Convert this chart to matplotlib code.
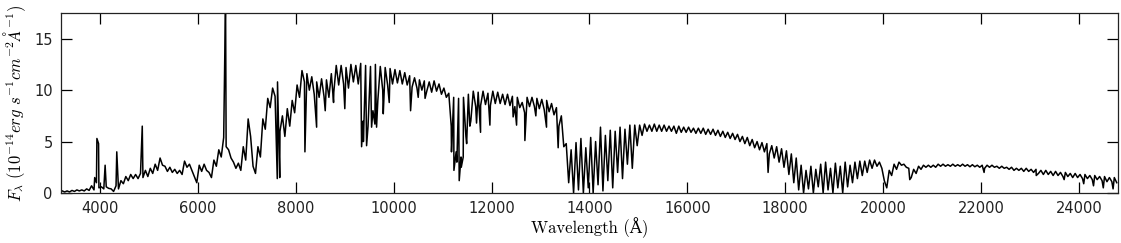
import numpy as np
import matplotlib
matplotlib.use('Agg')
from matplotlib import pyplot as plt

plt.rcParams['mathtext.fontset'] = 'cm'

# bin start wavelengths (Angstrom), 100 A bins
wave_bins = np.arange(3200, 24800, 100)

# upper / lower edge of the dense spectrum band in each bin (1e-14 erg/s/cm2/A)
flux_hi = [
    0.2, 0.2, 0.25, 0.3, 0.3, 0.4, 0.7, 1.0, 0.6, 0.6,        # 3200-4100
    0.4, 0.7, 1.2, 1.6, 1.8, 1.8, 1.9, 2.2, 2.4, 2.8,         # 4200-5100
    3.4, 2.6, 2.5, 2.3, 2.2, 3.1, 2.8, 1.6, 2.7, 2.8,         # 5200-6100
    2.0, 3.2, 4.2, 5.4, 4.2, 3.0, 2.9, 4.5, 7.2, 2.6,         # 6200-7100
    4.5, 7.2, 9.2, 10.2, 10.8, 7.5, 8.2, 9.0, 10.5, 11.9,     # 7200-8100
    11.6, 11.3, 10.8, 11.1, 11.0, 11.6, 12.4, 12.4, 12.2, 12.5,  # 8200-9100
    12.4, 12.6, 12.4, 12.3, 12.5, 12.3, 12.2, 12.1, 12.0, 11.9,  # 9200-10100
    11.7, 11.4, 11.2, 11.0, 10.9, 10.8, 10.9, 10.6, 10.2, 9.7,   # 10200-11100
    9.3, 9.2, 9.3, 9.6, 9.9, 9.8, 9.9, 9.7, 9.9, 9.8,         # 11200-12100
    9.6, 9.6, 9.4, 9.3, 8.8, 9.3, 9.3, 9.2, 9.1, 9.0,         # 12200-13100
    8.7, 8.3, 7.5, 4.8, 4.2, 4.9, 5.3, 4.4, 5.4, 5.0,         # 13200-14100
    6.4, 5.6, 6.1, 6.0, 6.4, 6.2, 6.6, 6.6, 6.6, 6.7,         # 14200-15100
    6.6, 6.7, 6.6, 6.6, 6.5, 6.5, 6.5, 6.4, 6.4, 6.3,         # 15200-16100
    6.3, 6.3, 6.2, 6.2, 6.1, 6.0, 5.9, 5.8, 5.7, 5.5,         # 16200-17100
    5.4, 5.2, 5.0, 4.9, 4.8, 4.6, 4.5, 4.3, 4.1, 3.8,         # 17200-18100
    3.4, 2.7, 2.2, 2.6, 2.3, 2.8, 3.0, 2.4, 2.9, 2.6,         # 18200-19100
    3.0, 2.7, 3.0, 3.1, 3.1, 3.2, 3.2, 3.0, 1.2, 2.2,         # 19200-20100
    2.8, 3.0, 2.8, 2.4, 2.3, 2.6, 2.7, 2.7, 2.7, 2.8,         # 20200-21100
    2.8, 2.75, 2.8, 2.75, 2.8, 2.75, 2.75, 2.7, 2.7, 2.7,     # 21200-22100
    2.7, 2.6, 2.6, 2.5, 2.5, 2.4, 2.4, 2.4, 2.3, 2.3,         # 22200-23100
    2.2, 2.2, 2.1, 2.1, 2.0, 2.0, 1.9, 1.9, 1.8, 1.8,         # 23200-24100
    1.7, 1.7, 1.6, 1.6, 1.5, 1.5,                             # 24200-24700
]
flux_lo = [
    0.1, 0.1, 0.15, 0.2, 0.2, 0.25, 0.3, 0.5, 0.4, 0.45,
    0.15, 0.4, 0.9, 1.2, 1.4, 1.4, 1.5, 1.6, 1.9, 2.2,
    2.7, 2.1, 2.0, 1.9, 1.8, 2.5, 2.2, 1.0, 2.1, 2.2,
    1.5, 2.6, 3.5, 4.5, 3.4, 2.4, 2.2, 3.2, 5.5, 1.9,
    3.5, 6.2, 8.3, 9.4, 6.0, 5.5, 6.5, 7.8, 9.3, 10.8,
    10.0, 9.6, 9.3, 9.4, 9.3, 9.8, 10.5, 10.6, 10.2, 10.8,
    10.6, 7.0, 6.5, 8.0, 9.0, 10.0, 10.5, 10.6, 10.7, 10.6,
    10.5, 10.3, 10.2, 10.0, 9.9, 9.8, 9.9, 9.6, 9.3, 6.5,
    4.0, 3.5, 5.5, 7.0, 8.4, 8.5, 8.6, 8.5, 8.7, 8.7,
    8.6, 8.5, 8.4, 8.3, 7.8, 8.4, 8.4, 8.2, 8.1, 7.9,
    7.6, 6.5, 4.5, 1.0, 0.0, 0.3, 0.0, 0.5, 0.0, 0.8,
    0.2, 1.2, 0.5, 2.0, 1.4, 2.8, 2.4, 4.6, 5.6, 6.0,
    6.0, 6.0, 6.0, 6.0, 6.0, 5.8, 5.9, 5.9, 5.9, 5.8,
    5.8, 5.7, 5.7, 5.6, 5.5, 5.4, 5.3, 5.2, 5.0, 4.8,
    4.6, 4.4, 4.2, 4.0, 3.8, 3.4, 3.0, 2.5, 1.8, 1.0,
    0.3, 0.0, 0.4, 0.0, 0.6, 0.0, 0.3, 0.0, 0.5, 0.0,
    0.6, 1.0, 1.4, 1.7, 2.0, 2.4, 2.6, 2.4, 0.5, 1.7,
    2.3, 2.7, 2.5, 1.5, 1.9, 2.3, 2.5, 2.5, 2.5, 2.6,
    2.6, 2.6, 2.6, 2.6, 2.6, 2.55, 2.55, 2.5, 2.4, 2.5,
    2.5, 2.4, 2.4, 2.3, 2.2, 2.2, 2.1, 2.1, 2.0, 1.9,
    1.8, 1.8, 1.7, 1.7, 1.6, 1.6, 1.5, 1.5, 1.4, 1.4,
    1.3, 1.3, 1.2, 1.1, 1.1, 1.0,
]

# narrow absorption features (telluric bands, Na I, K I ...)
dip_wave = [7620, 7670, 8185, 8424, 8600, 8770, 9000, 9343, 9380, 9445,
            9547, 9615, 9649, 9786, 9908, 10344, 10500, 10640, 11180, 11230,
            11290, 11338, 11380, 11420, 11490, 11555, 11692, 11774, 11965, 12440,
            12510, 12680, 12904, 13122, 13360, 17650, 20545, 22064, 23130, 23700,
            24100, 24300, 24500, 24700]
dip_flux = [1.4, 1.5, 4.0, 6.4, 8.0, 8.8, 8.2, 4.5, 5.0, 4.6,
            6.4, 6.7, 6.4, 7.7, 8.8, 8.0, 9.3, 9.2, 4.0, 2.2,
            3.0, 1.2, 2.5, 3.5, 4.8, 6.5, 6.8, 5.9, 6.6, 7.4,
            6.6, 5.1, 7.5, 6.4, 4.4, 2.0, 1.3, 2.0, 1.7, 1.3,
            0.9, 0.7, 0.5, 0.4]

# narrow emission lines: Ca II H&K, Balmer series
line_wave = [3889, 3934, 3968, 4102, 4340, 4861, 6563]
line_flux = [1.5, 5.3, 4.8, 2.7, 4.0, 6.5, 19.0]

# interleave band edges of each bin, then add narrow features
x = np.concatenate([wave_bins + 25, wave_bins + 75, dip_wave, line_wave])
y = np.concatenate([flux_hi, flux_lo, dip_flux, line_flux])
order = np.argsort(x)
x, y = x[order], y[order]

fig = plt.figure(figsize=(11.21, 2.43), dpi=100)
ax = fig.add_axes([0.0544, 0.2058, 0.9429, 0.7407])
ax.plot(x, y, color='black', linewidth=1.1)

ax.set_xlim(3200, 24800)
ax.set_ylim(0, 17.5)
ax.set_xticks(np.arange(4000, 24001, 2000))
ax.set_yticks([0, 5, 10, 15])
ax.tick_params(direction='in', length=8, width=0.9, top=True, right=True,
               labelsize=10.5, labelcolor='#222222', pad=6)
for sp in ax.spines.values():
    sp.set_linewidth(0.9)
    sp.set_color('#222222')

ax.set_xlabel('Wavelength (Å)', fontsize=12, labelpad=1,
              family=['cmr10', 'DejaVu Serif'])
ax.set_ylabel(r'$F_{\lambda}\ (10^{-14}erg\ s^{-1}cm^{-2}\AA^{-1})$',
              fontsize=12, labelpad=4)

fig.savefig('out.png', dpi=100)
